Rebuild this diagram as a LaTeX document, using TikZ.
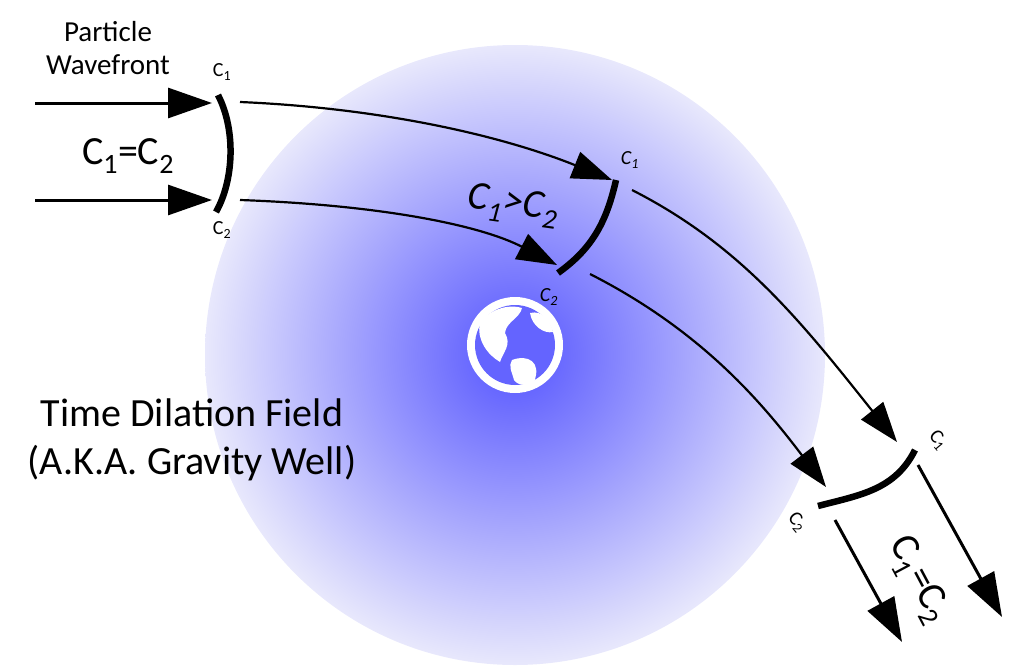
\documentclass[tikz,border=0pt]{standalone}
\usepackage{fontspec}
\setmainfont{Carlito}
\usetikzlibrary{arrows.meta}
\definecolor{cin}{RGB}{85,85,255}
\definecolor{cout}{RGB}{232,232,252}
\definecolor{globe}{RGB}{100,100,255}
\begin{document}
\begin{tikzpicture}[x=1pt,y=-1pt,
  ray/.style={line width=3pt,-{Triangle[length=44pt,width=30pt]}},
  cray/.style={line width=2.2pt,-{Triangle[length=40pt,width=28pt]}},
  front/.style={line width=6.5pt},
  lbl/.style={font=\fontsize{20}{22}\selectfont}]
\useasboundingbox (0,0) rectangle (1024,669);
\shade[inner color=cin, outer color=cout] (515,355) circle (310);
% earth
\fill[white] (515,345) circle (48);
\fill[globe] (515,345) circle (40);
\fill[white] (480,322) .. controls (492,308) and (510,304) .. (522,308) .. controls (520,318) and (506,322) .. (505,333) .. controls (512,345) and (503,352) .. (500,362) .. controls (488,355) and (476,340) .. (480,322) -- cycle;
\fill[white] (512,360) .. controls (528,354) and (542,362) .. (534,382) .. controls (528,386) and (518,386) .. (514,380) .. controls (512,372) and (508,366) .. (512,360) -- cycle;
\fill[white] (530,313) .. controls (542,310) and (550,320) .. (553,332) .. controls (544,334) and (532,326) .. (530,313) -- cycle;
% nodes
\coordinate (a1) at (35,103); \coordinate (a1e) at (212,103);
\coordinate (a2) at (35,200); \coordinate (a2e) at (212,200);
\coordinate (f1t) at (218,95); \coordinate (f1b) at (216,212);
\coordinate (s1) at (240,102); \coordinate (e1) at (612,180);
\coordinate (s2) at (240,200); \coordinate (e2) at (557,265);
\coordinate (f2t) at (616,180); \coordinate (f2b) at (558,273);
\coordinate (s3) at (632,190); \coordinate (e3) at (897,442);
\coordinate (s4) at (590,274); \coordinate (e4) at (826,487);
\coordinate (f3l) at (818,506); \coordinate (f3r) at (915,450);
\coordinate (b1) at (918,465); \coordinate (b1e) at (1002,617);
\coordinate (b2) at (835,520); \coordinate (b2e) at (902,642);
\draw[ray] (a1) -- (a1e);
\draw[ray] (a2) -- (a2e);
\draw[front] (f1t) .. controls (236,130) and (234,180) .. (f1b);
\draw[cray] (s1) .. controls (380,108) and (500,135) .. (e1);
\draw[cray] (s2) .. controls (380,205) and (480,225) .. (e2);
\draw[front] (f2t) .. controls (606,225) and (590,250) .. (f2b);
\draw[cray] (s3) .. controls (740,245) and (800,320) .. (e3);
\draw[cray] (s4) .. controls (700,330) and (760,400) .. (e4);
\draw[front] (f3l) .. controls (860,495) and (895,490) .. (f3r);
\draw[ray] (b1) -- (b1e);
\draw[ray] (b2) -- (b2e);
% labels
\node[align=center,font=\fontsize{29}{33}\selectfont] (pw) at (108,48) {Particle\\Wavefront};
\node[lbl] (l1) at (222,72) {C\textsubscript{1}};
\node[lbl] (l2) at (222,230) {C\textsubscript{2}};
\node[font=\fontsize{40}{44}\selectfont] (eq1) at (128,156) {C\textsubscript{1}=C\textsubscript{2}};
\node[lbl] (l3) at (630,160) {\itshape C\textsubscript{1}};
\node[lbl] (l4) at (549,297) {\itshape C\textsubscript{2}};
\node[font=\fontsize{40}{44}\selectfont\itshape,rotate=-8] (gt) at (513,206) {C\textsubscript{1}>C\textsubscript{2}};
\node[lbl,rotate=-50] (l5) at (938,440) {C\textsubscript{1}};
\node[lbl,rotate=-50] (l6) at (797,522) {C\textsubscript{2}};
\node[font=\fontsize{40}{44}\selectfont,rotate=-62] (eq2) at (918,580) {C\textsubscript{1}=C\textsubscript{2}};
\node[align=center,font=\fontsize{40}{48}\selectfont] (tf) at (192,440) {Time Dilation Field\\(A.K.A. Gravity Well)};
\end{tikzpicture}
\end{document}
